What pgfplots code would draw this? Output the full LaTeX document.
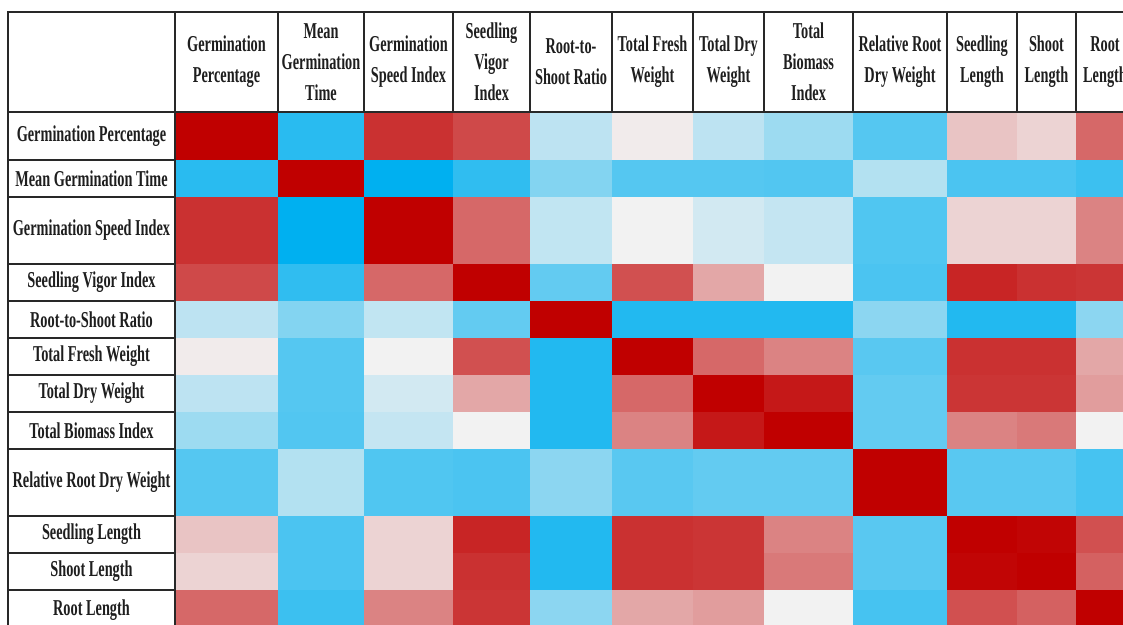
\documentclass[border=0pt]{standalone}
\usepackage{pgfplots}
\pgfplotsset{compat=1.18}
\usepackage{fontspec}
\setmainfont{Liberation Serif}[FakeStretch=0.63]
\definecolor{ln}{RGB}{40,40,40}
\definecolor{tx}{RGB}{30,30,30}
\tikzset{lab/.style={font=\bfseries\fontsize{22.7}{31}\selectfont, text=tx, align=center, inner sep=0pt}}
\begin{document}
\begin{tikzpicture}
\begin{axis}[width=1123pt,height=624pt,scale only axis,
  xmin=0,xmax=1123,ymin=0,ymax=624,y dir=reverse,hide axis,clip=false,
  colormap={corr}{rgb255=(0,176,240) rgb255=(242,242,242) rgb255=(192,0,0)},
  point meta min=-1,point meta max=1]
\addplot[surf,shader=flat corner,mesh/ordering=x varies,mesh/cols=13,mesh/rows=13,z buffer=none,point meta=explicit]
table[x=x,y=y,meta=c]{
x y c
175 112 1
278 112 -0.83
364 112 0.80
453 112 0.70
530 112 -0.22
612 112 0.03
693 112 -0.22
764 112 -0.35
853 112 -0.65
947 112 0.19
1017 112 0.13
1076 112 0.57
1134 112 0
175 160 -0.83
278 160 1
364 160 -1.00
453 160 -0.80
530 160 -0.46
612 160 -0.65
693 160 -0.65
764 160 -0.66
853 160 -0.26
947 160 -0.69
1017 160 -0.69
1076 160 -0.75
1134 160 0
175 197 0.80
278 197 -1.00
364 197 1
453 197 0.57
530 197 -0.20
612 197 0.00
693 197 -0.13
764 197 -0.19
853 197 -0.67
947 197 0.13
1017 197 0.13
1076 197 0.46
1134 197 0
175 264 0.70
278 264 -0.80
364 264 0.57
453 264 1
530 264 -0.59
612 264 0.67
693 264 0.31
764 264 0.00
853 264 -0.69
947 264 0.85
1017 264 0.80
1076 264 0.78
1134 264 0
175 301 -0.22
278 301 -0.46
364 301 -0.20
453 301 -0.59
530 301 1
612 301 -0.86
693 301 -0.86
764 301 -0.86
853 301 -0.42
947 301 -0.86
1017 301 -0.86
1076 301 -0.42
1134 301 0
175 338 0.03
278 338 -0.65
364 338 0.00
453 338 0.67
530 338 -0.86
612 338 1
693 338 0.57
764 338 0.46
853 338 -0.63
947 338 0.80
1017 338 0.80
1076 338 0.31
1134 338 0
175 375 -0.22
278 375 -0.65
364 375 -0.13
453 375 0.31
530 375 -0.86
612 375 0.57
693 375 1
764 375 0.90
853 375 -0.59
947 375 0.78
1017 375 0.78
1076 375 0.35
1134 375 0
175 412 -0.35
278 412 -0.66
364 412 -0.19
453 412 0.00
530 412 -0.86
612 412 0.46
693 412 0.90
764 412 1
853 412 -0.59
947 412 0.46
1017 412 0.50
1076 412 0.00
1134 412 0
175 449 -0.65
278 449 -0.26
364 449 -0.67
453 449 -0.69
530 449 -0.42
612 449 -0.63
693 449 -0.59
764 449 -0.59
853 449 1
947 449 -0.63
1017 449 -0.63
1076 449 -0.71
1134 449 0
175 516 0.19
278 516 -0.69
364 516 0.13
453 516 0.85
530 516 -0.86
612 516 0.80
693 516 0.78
764 516 0.46
853 516 -0.63
947 516 1
1017 516 0.98
1076 516 0.67
1134 516 0
175 553 0.13
278 553 -0.69
364 553 0.13
453 553 0.80
530 553 -0.86
612 553 0.80
693 553 0.78
764 553 0.50
853 553 -0.63
947 553 0.98
1017 553 1
1076 553 0.60
1134 553 0
175 590 0.57
278 590 -0.75
364 590 0.46
453 590 0.78
530 590 -0.42
612 590 0.31
693 590 0.35
764 590 0.00
853 590 -0.71
947 590 0.67
1017 590 0.60
1076 590 1
1134 590 0
175 630 0
278 630 0
364 630 0
453 630 0
530 630 0
612 630 0
693 630 0
764 630 0
853 630 0
947 630 0
1017 630 0
1076 630 0
1134 630 0
};
% header lines
\draw[ln,line width=2.5pt] (axis cs:7,12) -- (axis cs:1140,12);
\draw[ln,line width=2.5pt] (axis cs:7,112) -- (axis cs:1140,112);
\pgfplotsinvokeforeach{278,364,453,530,612,693,764,853,947,1017,1076}{
  \draw[ln,line width=1.5pt] (axis cs:#1,12) -- (axis cs:#1,112);}
% label column lines
\draw[ln,line width=2pt] (axis cs:8,11) -- (axis cs:8,640);
\draw[ln,line width=1.5pt] (axis cs:175,12) -- (axis cs:175,640);
\pgfplotsinvokeforeach{160,197,264,301,338,375,412,449,516,553,590}{
  \draw[ln,line width=2pt] (axis cs:8,#1) -- (axis cs:175,#1);}
% header texts
\node[lab] at (axis cs:226.5,62) {Germination\\Percentage};
\node[lab] at (axis cs:321,62) {Mean\\Germination\\Time};
\node[lab] at (axis cs:408.5,62) {Germination\\Speed Index};
\node[lab] at (axis cs:491.5,62) {Seedling\\Vigor\\Index};
\node[lab] at (axis cs:571,62) {Root-to-\\Shoot Ratio};
\node[lab] at (axis cs:652.5,62) {Total Fresh\\Weight};
\node[lab] at (axis cs:728.5,62) {Total Dry\\Weight};
\node[lab] at (axis cs:808.5,62) {Total\\Biomass\\Index};
\node[lab] at (axis cs:900,62) {Relative Root\\Dry Weight};
\node[lab] at (axis cs:982,62) {Seedling\\Length};
\node[lab] at (axis cs:1046.5,62) {Shoot\\Length};
\node[lab] at (axis cs:1105,62) {Root\\Length};
% row labels
\node[lab] at (axis cs:91.5,136) {Germination Percentage};
\node[lab] at (axis cs:91.5,178.5) {Mean Germination Time};
\node[lab] at (axis cs:91.5,230.5) {Germination Speed Index};
\node[lab] at (axis cs:91.5,282.5) {Seedling Vigor Index};
\node[lab] at (axis cs:91.5,319.5) {Root-to-Shoot Ratio};
\node[lab] at (axis cs:91.5,356.5) {Total Fresh Weight};
\node[lab] at (axis cs:91.5,393.5) {Total Dry Weight};
\node[lab] at (axis cs:91.5,430.5) {Total Biomass Index};
\node[lab] at (axis cs:91.5,482.5) {Relative Root Dry Weight};
\node[lab] at (axis cs:91.5,534.5) {Seedling Length};
\node[lab] at (axis cs:91.5,571.5) {Shoot Length};
\node[lab] at (axis cs:91.5,610) {Root Length};
\end{axis}
\pgfresetboundingbox
\useasboundingbox (current axis.south west) rectangle (current axis.north east);
\end{tikzpicture}
\end{document}
